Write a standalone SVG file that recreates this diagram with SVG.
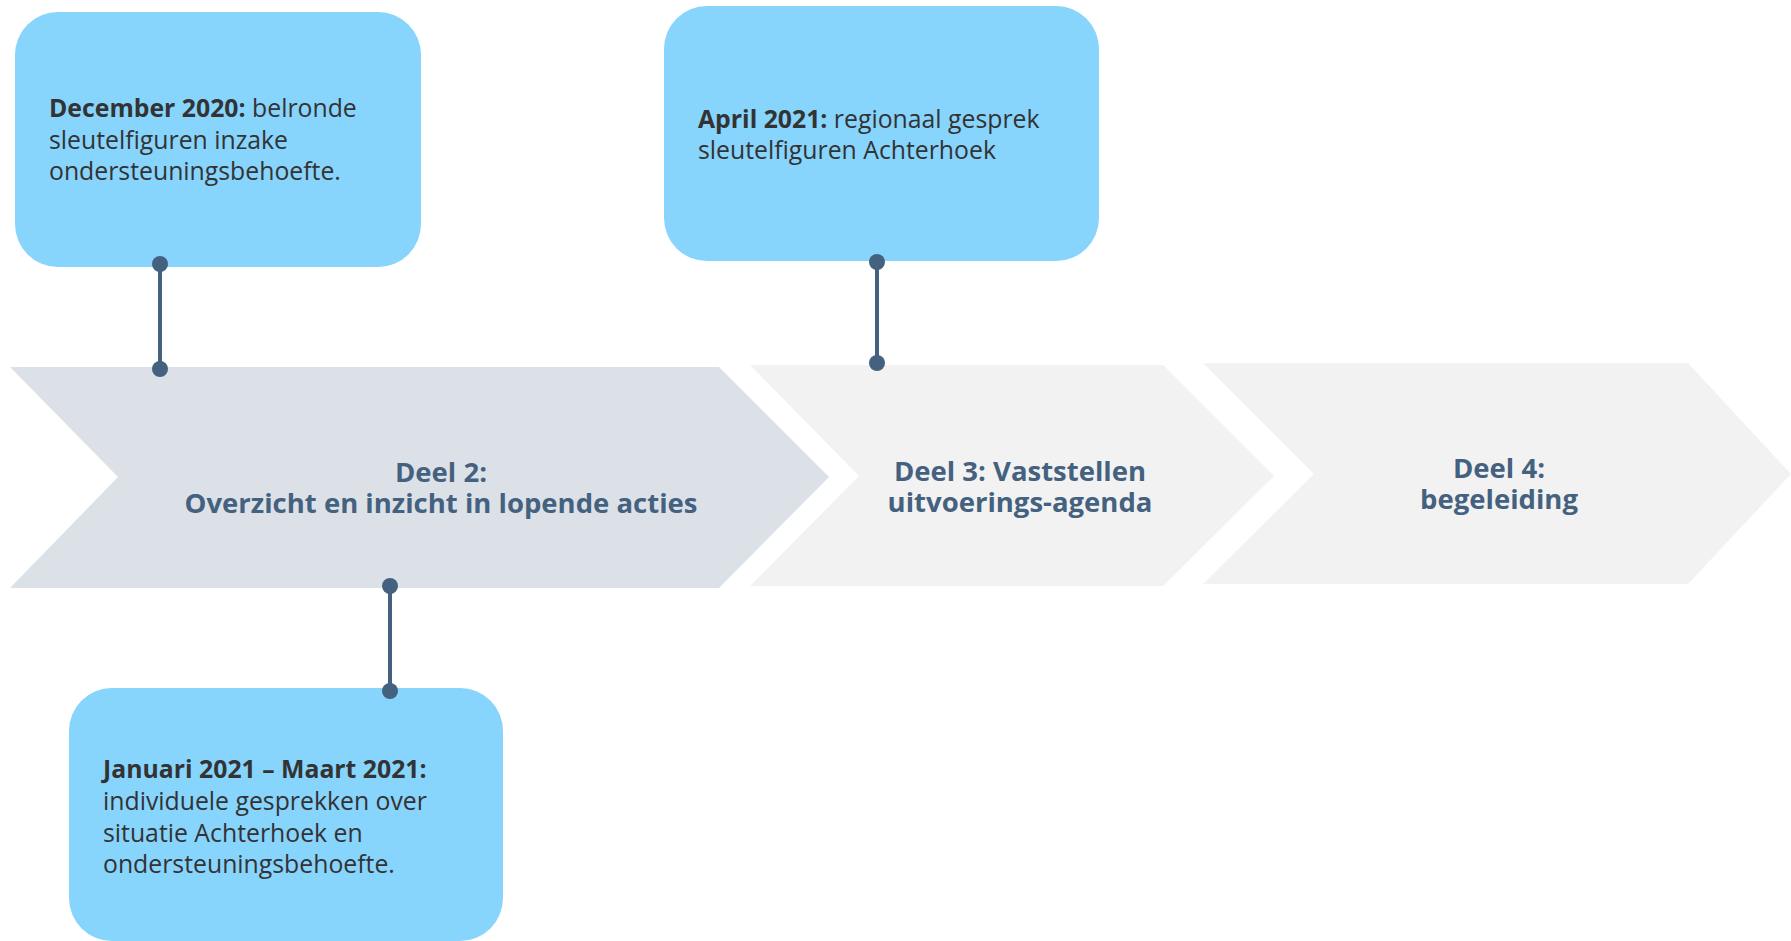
<svg xmlns="http://www.w3.org/2000/svg" width="1791" height="941" viewBox="0 0 1791 941">
  <style>
    .card { fill: #87D4FD; }
    .note { font-family: "Open Sans", "Noto Sans", sans-serif; font-size: 24.8px; fill: #333333; }
    .note .b { font-weight: 700; }
    .step { font-family: "Open Sans", "Noto Sans", sans-serif; font-size: 27.5px; font-weight: 700; fill: #44627F; text-anchor: middle; }
    .active { fill: #DCE1E8; }
    .idle { fill: #F2F2F2; }
    .link { stroke: #44627F; stroke-width: 4; fill: none; }
    .dot { fill: #44627F; }
  </style>

  <rect width="1791" height="941" fill="#FFFFFF"/>

  <!-- process steps -->
  <g id="step-deel2">
    <polygon class="active" points="10,367 719,367 829,477 719,588 10,588 118,477"/>
    <text class="step" x="441" y="482">Deel 2:</text>
    <text class="step" x="441" y="513">Overzicht en inzicht in lopende acties</text>
  </g>
  <g id="step-deel3">
    <polygon class="idle" points="750,365 1163,365 1274,476 1163,586 750,586 859,476"/>
    <text class="step" x="1020" y="481">Deel 3: Vaststellen</text>
    <text class="step" x="1020" y="512">uitvoerings-agenda</text>
  </g>
  <g id="step-deel4">
    <polygon class="idle" points="1203,363 1688,363 1791,474 1688,584 1203,584 1314,474"/>
    <text class="step" x="1499" y="478">Deel 4:</text>
    <text class="step" x="1499" y="509">begeleiding</text>
  </g>

  <!-- milestone cards -->
  <g id="note-dec2020">
    <rect class="card" x="15" y="12" width="406" height="255" rx="43" ry="43"/>
    <text class="note" x="49" y="117"><tspan class="b">December 2020:</tspan> belronde</text>
    <text class="note" x="49" y="149">sleutelfiguren inzake</text>
    <text class="note" x="49" y="180">ondersteuningsbehoefte.</text>
  </g>
  <g id="note-apr2021">
    <rect class="card" x="664" y="6" width="435" height="255" rx="43" ry="43"/>
    <text class="note" x="698" y="128"><tspan class="b">April 2021:</tspan> regionaal gesprek</text>
    <text class="note" x="698" y="159">sleutelfiguren Achterhoek</text>
  </g>
  <g id="note-jan-mrt2021">
    <rect class="card" x="69" y="688" width="434" height="253" rx="43" ry="43"/>
    <text class="note" x="103" y="778"><tspan class="b">Januari 2021 – Maart 2021:</tspan></text>
    <text class="note" x="103" y="810">individuele gesprekken over</text>
    <text class="note" x="103" y="842">situatie Achterhoek en</text>
    <text class="note" x="103" y="873">ondersteuningsbehoefte.</text>
  </g>

  <!-- connectors between cards and steps -->
  <g id="connectors">
    <line class="link" x1="160" y1="264" x2="160" y2="369"/>
    <circle class="dot" cx="160" cy="264" r="8"/>
    <circle class="dot" cx="160" cy="369" r="8"/>
    <line class="link" x1="877" y1="262" x2="877" y2="363"/>
    <circle class="dot" cx="877" cy="262" r="8"/>
    <circle class="dot" cx="877" cy="363" r="8"/>
    <line class="link" x1="390" y1="586" x2="390" y2="691"/>
    <circle class="dot" cx="390" cy="586" r="8"/>
    <circle class="dot" cx="390" cy="691" r="8"/>
  </g>
</svg>
